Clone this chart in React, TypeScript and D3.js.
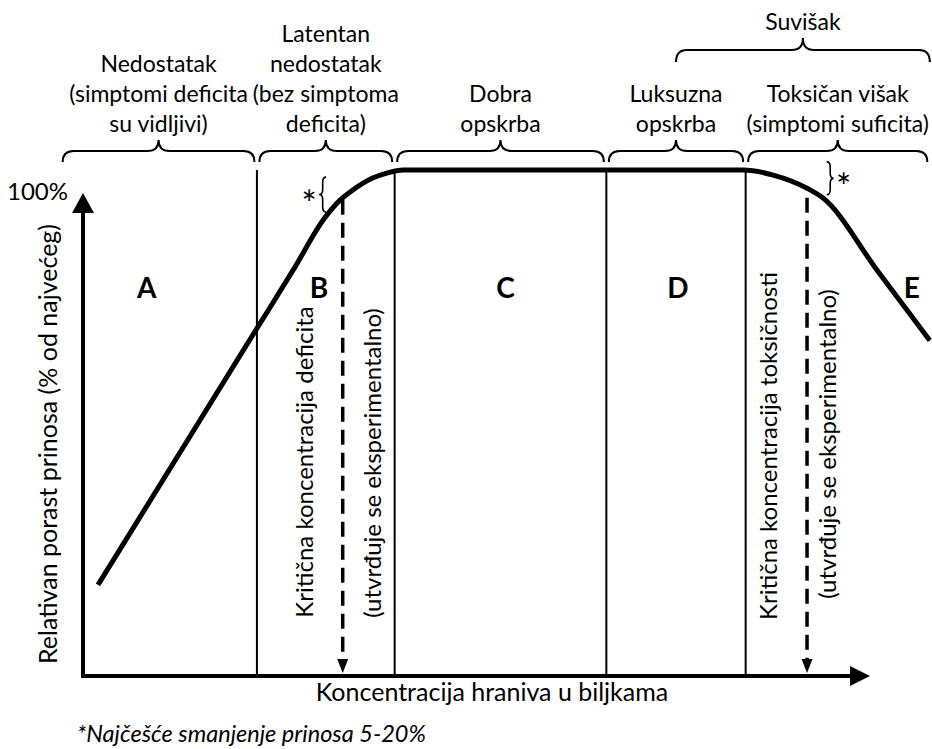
import React, { useEffect } from 'react';
import * as d3 from 'd3';

// concentration (arbitrary units, 0..100 along the x axis) vs relative yield (%)
const curveConc = [1.9, 22.1, 26.7, 30.7, 32.7, 33.9, 36.8, 38.6, 40.7, 83.9, 87.7, 92.0, 94.0, 100.9, 107.6];
const curveYield = [18.0, 68.7, 80.2, 90.5, 94.1, 95.6, 98.4, 99.4, 100, 100, 99.0, 96.4, 94.5, 80.2, 66.3];

// zone edges (first and last are the brace ends, the middle ones are the vertical lines)
const zoneEdges = [-2.9, 22.1, 39.6, 66.5, 84.2, 107.6];
const zoneTitles = [
  ['Nedostatak', '(simptomi deficita', 'su vidljivi)'],
  ['Latentan', 'nedostatak', '(bez simptoma', 'deficita)'],
  ['Dobra', 'opskrba'],
  ['Luksuzna', 'opskrba'],
  ['Toksičan višak', '(simptomi suficita)'],
];
const zoneLetters = ['A', 'B', 'C', 'D', 'E'];
const letterConc = [8.1, 30.0, 53.7, 75.6, 105.3];

const excessFrom = 75.35;
const excessTo = 107.6;
const excessLabel = 'Suvišak';

// critical concentrations (dashed arrows) and the yield where the dash begins
const criticalConc = [33.0, 92.0];
const criticalStartYield = [94.1, 94.5];
const criticalTexts = [
  ['Kritična koncentracija deficita', '(utvrđuje se eksperimentalno)'],
  ['Kritična koncentracija toksičnosti', '(utvrđuje se eksperimentalno)'],
];

// small "yield reduction" braces: [conc, yield top, yield bottom]
const reductionBraces = [
  { conc: 30.9, top: 98.6, bottom: 91.7, side: 'left' },
  { conc: 94.5, top: 101.6, bottom: 95.1, side: 'right' },
];

const yTickLabel = '100%';
const yTitle = 'Relativan porast prinosa (% od najvećeg)';
const xTitle = 'Koncentracija hraniva u biljkama';
const footnote = '*Najčešće smanjenje prinosa 5-20%';

const W = 932;
const H = 749;
const FONT = "Lato, 'Open Sans', sans-serif";
const FS = 24;

// horizontal curly brace, tip pointing up
function braceUp(x1: number, x2: number, yEnd: number, h: number) {
  const m = (x1 + x2) / 2;
  const r = 11;
  const yh = yEnd - h / 2;
  const yt = yEnd - h;
  return `M${x1},${yEnd} Q${x1},${yh} ${x1 + r},${yh} L${m - r},${yh} Q${m},${yh} ${m},${yt}` +
    ` Q${m},${yh} ${m + r},${yh} L${x2 - r},${yh} Q${x2},${yh} ${x2},${yEnd}`;
}

// vertical curly brace, tip to the left (dir=-1) or right (dir=1)
function braceSide(xEnd: number, y1: number, y2: number, w: number, dir: number) {
  const m = (y1 + y2) / 2;
  const r = 5;
  const xh = xEnd + dir * w / 2;
  const xt = xEnd + dir * w;
  return `M${xEnd},${y1} Q${xh},${y1} ${xh},${y1 + r} L${xh},${m - r} Q${xh},${m} ${xt},${m}` +
    ` Q${xh},${m} ${xh},${m + r} L${xh},${y2 - r} Q${xh},${y2} ${xEnd},${y2}`;
}

export default function App() {
  useEffect(() => {
    document.body.style.margin = '0';
  }, []);

  const x = d3.scaleLinear().domain([0, 100]).range([83, 870]);
  const y = d3.scaleLinear().domain([0, 100]).range([676, 170]);

  const line = d3.line<number>()
    .x((d, i) => x(curveConc[i]))
    .y(d => y(d))
    .curve(d3.curveMonotoneX);

  const axisY0 = y(0);
  const yAxisTop = 193;
  const gap = 2.5;

  return (
    <svg width={W} height={H} style={{ display: 'block', background: '#fff' }} fontFamily={FONT}>
      {/* zone braces and titles */}
      {zoneTitles.map((lines, i) => {
        const x1 = x(zoneEdges[i]) + gap;
        const x2 = x(zoneEdges[i + 1]) - gap;
        const cx = (x(zoneEdges[i]) + x(zoneEdges[i + 1])) / 2;
        return (
          <g key={'zone' + i}>
            <path d={braceUp(x1, x2, 162, 22)} fill="none" stroke="#000" strokeWidth={2} />
            {lines.map((t, j) => (
              <text key={j} x={cx} y={132 - (lines.length - 1 - j) * 30}
                textAnchor="middle" fontSize={23} fill="#000">{t}</text>
            ))}
          </g>
        );
      })}

      {/* excess brace */}
      <path d={braceUp(x(excessFrom), x(excessTo), 62, 24)} fill="none" stroke="#000" strokeWidth={2} />
      <text x={(x(excessFrom) + x(excessTo)) / 2} y={30} textAnchor="middle" fontSize={23}>{excessLabel}</text>

      {/* vertical zone boundaries */}
      {zoneEdges.slice(1, -1).map((c, i) => (
        <line key={'v' + i} x1={x(c)} x2={x(c)} y1={y(100)} y2={axisY0} stroke="#000" strokeWidth={2} />
      ))}

      {/* zone letters */}
      {zoneLetters.map((l, i) => (
        <text key={'l' + i} x={x(letterConc[i])} y={298} textAnchor="middle"
          fontSize={28} fontWeight="bold">{l}</text>
      ))}

      {/* critical concentrations */}
      {criticalConc.map((c, i) => {
        const cx = x(c);
        const tip = axisY0 - 3;
        return (
          <g key={'c' + i}>
            <line x1={cx} x2={cx} y1={y(criticalStartYield[i])} y2={tip - 13}
              stroke="#000" strokeWidth={3.5} strokeDasharray="15,8" />
            <path d={`M${cx - 5.5},${tip - 14} L${cx + 5.5},${tip - 14} L${cx},${tip} Z`} fill="#000" />
          </g>
        );
      })}
      {[[-30, 38], [-30, 29]].map((offs, i) => {
        const cx = x(criticalConc[i]);
        const cys = i === 0 ? [462, 463] : [446, 444];
        return offs.map((o, j) => (
          <text key={`ct${i}${j}`} transform={`translate(${cx + o},${cys[j]}) rotate(-90)`}
            textAnchor="middle" fontSize={FS}>{criticalTexts[i][j]}</text>
        ));
      })}

      {/* yield reduction braces */}
      {reductionBraces.map((b, i) => {
        const bx = x(b.conc);
        const dir = b.side === 'left' ? -1 : 1;
        return (
          <g key={'rb' + i}>
            <path d={braceSide(bx, y(b.top), y(b.bottom), 7, dir)} fill="none" stroke="#000" strokeWidth={1.6} />
            <text x={bx + dir * 17} y={(y(b.top) + y(b.bottom)) / 2 + 22} textAnchor="middle" fontSize={36}>*</text>
          </g>
        );
      })}

      {/* response curve */}
      <path d={line(curveYield) || ''} fill="none" stroke="#000" strokeWidth={5} strokeLinejoin="round" />

      {/* axes */}
      <line x1={x(0)} x2={x(0)} y1={axisY0 + 2} y2={yAxisTop + 18} stroke="#000" strokeWidth={4} />
      <path d={`M${x(0) - 11},${yAxisTop + 20} L${x(0) + 11},${yAxisTop + 20} L${x(0)},${yAxisTop} Z`} fill="#000" />
      <line x1={x(0) - 2} x2={x(100) - 18} y1={axisY0} y2={axisY0} stroke="#000" strokeWidth={4} />
      <path d={`M${x(100) - 20},${axisY0 - 10} L${x(100) - 20},${axisY0 + 10} L${x(100)},${axisY0} Z`} fill="#000" />

      <text x={68} y={200} textAnchor="end" fontSize={FS}>{yTickLabel}</text>
      <text transform={`translate(57,444) rotate(-90)`} textAnchor="middle" fontSize={25}>{yTitle}</text>
      <text x={492} y={701} textAnchor="middle" fontSize={25}>{xTitle}</text>
      <text x={77} y={742} fontSize={23.5} fontStyle="italic">{footnote}</text>
    </svg>
  );
}
